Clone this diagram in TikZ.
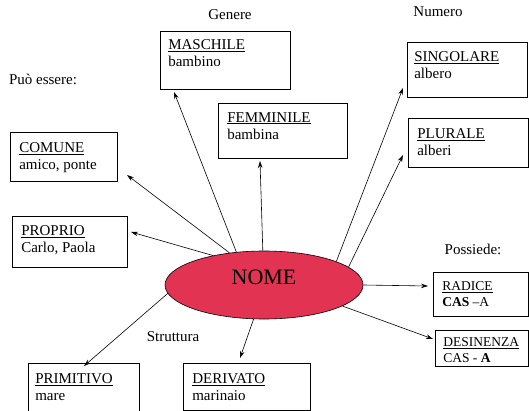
\documentclass[tikz,border=0pt]{standalone}
\usepackage{fontspec}
\setmainfont{Liberation Serif}
\usetikzlibrary{shapes.geometric,arrows.meta}
\definecolor{nomered}{RGB}{226,52,82}
\newcommand\boxtext[5]{\parbox[c][#2][t]{#1}{\vspace*{#3}\setlength\leftskip{#4}#5}}
\tikzset{
  box/.style={draw, line width=0.6pt, anchor=north west, inner sep=0pt,
    font=\fontsize{15}{17.5}\selectfont},
  smallbox/.style={box, font=\fontsize{13.5}{16.5}\selectfont},
  lbl/.style={font=\fontsize{15}{18}\selectfont, inner sep=0pt},
  conn/.style={line width=0.6pt, -{Stealth[length=7pt,width=4.5pt]}}
}
\begin{document}
\begin{tikzpicture}[x=1pt,y=-1pt]
\useasboundingbox (0,0) rectangle (529,411);
% central ellipse
\node[ellipse, draw, line width=0.6pt, fill=nomered, minimum width=198pt, minimum height=68pt,
  inner sep=0pt, text depth=16pt, font=\fontsize{22}{24}\selectfont] (nome) at (264,285) {NOME};
% boxes
\node[box] (masc) at (160,31) {\boxtext{130pt}{58pt}{8pt}{8pt}{\underline{MASCHILE}\\bambino}};
\node[box] (femm) at (218,103) {\boxtext{129pt}{55pt}{9pt}{9pt}{\underline{FEMMINILE}\\bambina}};
\node[box] (sing) at (407,42) {\boxtext{120pt}{55pt}{9pt}{7pt}{\underline{SINGOLARE}\\albero}};
\node[box] (plur) at (408,118) {\boxtext{120pt}{49pt}{10pt}{9pt}{\underline{PLURALE}\\alberi}};
\node[box] (comu) at (10,132) {\boxtext{107pt}{49pt}{10pt}{9pt}{\underline{COMUNE}\\amico, ponte}};
\node[box] (prop) at (12,216) {\boxtext{115pt}{51pt}{9pt}{9pt}{\underline{PROPRIO}\\Carlo, Paola}};
\node[box] (prim) at (28,363) {\boxtext{111pt}{50pt}{10pt}{7pt}{\underline{PRIMITIVO}\\mare}};
\node[box] (deri) at (183,363) {\boxtext{127pt}{47pt}{10pt}{9pt}{\underline{DERIVATO}\\marinaio}};
\node[smallbox] (radi) at (433,272) {\boxtext{95pt}{44pt}{9pt}{9pt}{\underline{RADICE}\\\textbf{CAS} --A}};
\node[smallbox] (desi) at (435,330) {\boxtext{93pt}{36pt}{7pt}{8pt}{\underline{DESINENZA}\\CAS - \textbf{A}}};
% labels
\node[lbl] (genere) at (230,15) {Genere};
\node[lbl] (numero) at (438,12) {Numero};
\node[lbl] (puo) at (43,79) {Può essere:};
\node[lbl] (possiede) at (473,249) {Possiede:};
\node[lbl] (struttura) at (173,337) {Struttura};
% arrow end points
\coordinate (eMasc) at (174,92);
\coordinate (eFemm) at (260,161);
\coordinate (eComu) at (127,175);
\coordinate (eProp) at (131,232);
\coordinate (ePrim) at (84,366);
\coordinate (eDeri) at (240,358);
\coordinate (eSing) at (403,88);
\coordinate (ePlur) at (403,155);
\coordinate (eRadi) at (428,286);
\coordinate (eDesi) at (433,339);
% connectors
\draw[conn] (nome.130) -- (eMasc);
\draw[conn] (nome.92) -- (eFemm);
\draw[conn] (nome.137) -- (eComu);
\draw[conn] (nome.150) -- (eProp);
\draw[conn] (nome.185) -- (ePrim);
\draw[conn] (nome.253) -- (eDeri);
\draw[conn] (nome.18) -- (eSing);
\draw[conn] (nome.12) -- (ePlur);
\draw[conn] (nome.east) -- (eRadi);
\draw[conn] (nome.345) -- (eDesi);
\end{tikzpicture}
\end{document}
